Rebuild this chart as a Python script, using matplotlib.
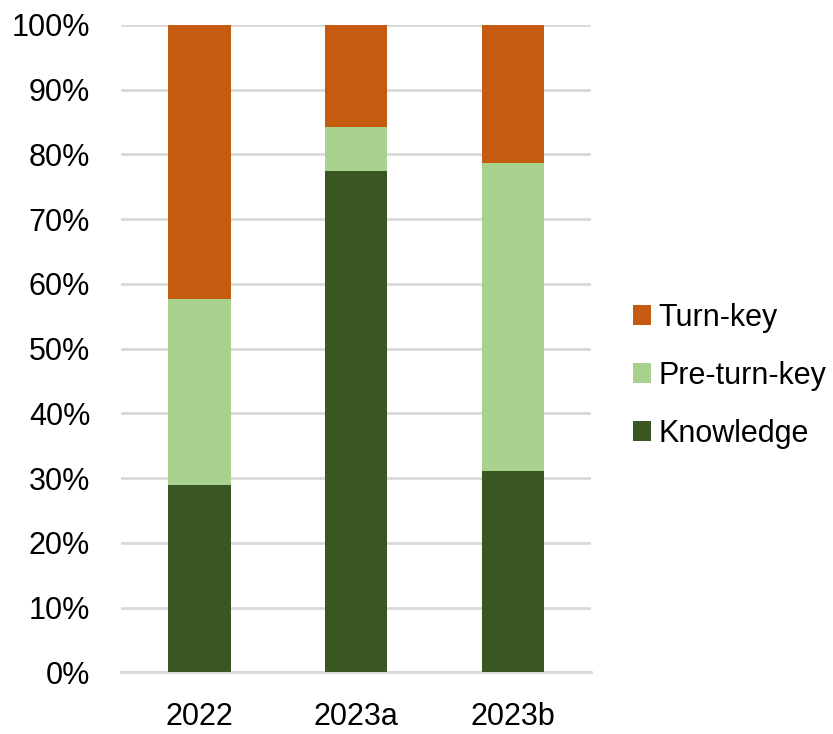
import numpy as np
import matplotlib.pyplot as plt

# share of each category per year (%)
years = ['2022', '2023a', '2023b']
knowledge = [28.9, 77.4, 31.1]
pre_turn_key = [28.7, 6.9, 47.6]
turn_key = [100 - k - p for k, p in zip(knowledge, pre_turn_key)]

col_knowledge = '#3a5723'
col_pre = '#a9d18e'
col_turn = '#c55a11'

plt.rcParams['font.family'] = ['Liberation Sans', 'DejaVu Sans']
fs = 22

fig = plt.figure(figsize=(8.33, 7.34), dpi=100)
ax = fig.add_axes([0.145, 0.084, 0.565, 0.882])

x = np.arange(len(years))
w = 0.4
ax.bar(x, knowledge, w, color=col_knowledge, label='Knowledge', zorder=3)
ax.bar(x, pre_turn_key, w, bottom=knowledge, color=col_pre, label='Pre-turn-key', zorder=3)
bottom2 = [k + p for k, p in zip(knowledge, pre_turn_key)]
ax.bar(x, turn_key, w, bottom=bottom2, color=col_turn, label='Turn-key', zorder=3)

ax.set_xlim(-0.5, 2.5)
ax.set_ylim(0, 100)
ax.set_yticks(np.arange(0, 101, 10))
ax.set_yticklabels([f'{v}%' for v in range(0, 101, 10)], fontsize=fs)
ax.set_xticks(x)
ax.set_xticklabels(years, fontsize=fs)
ax.yaxis.grid(True, color='#d9d9d9', linewidth=2, zorder=0)
for s in ax.spines.values():
    s.set_visible(False)
ax.spines['bottom'].set_visible(True)
ax.spines['bottom'].set_color('#d9d9d9')
ax.spines['bottom'].set_linewidth(2)
ax.tick_params(axis='y', length=0, pad=22)
ax.tick_params(axis='x', length=0, pad=21)

h, l = ax.get_legend_handles_labels()
fig.legend(h[::-1], l[::-1], loc='center left', bbox_to_anchor=(0.734, 0.488),
           frameon=False, fontsize=fs, handlelength=0.6, handleheight=0.6,
           handletextpad=0.25, labelspacing=0.92, borderpad=0.2)

fig.savefig('out.png', dpi=100)
